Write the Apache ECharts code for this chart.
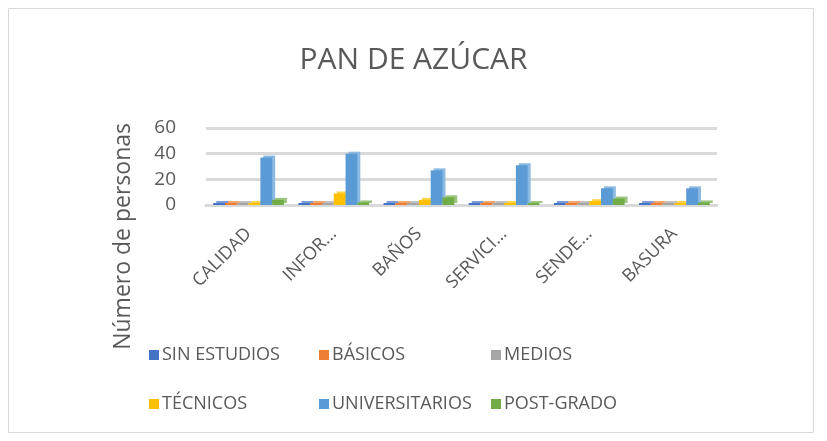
<!DOCTYPE html>
<html>
<head>
<meta charset="utf-8">
<script src="https://cdn.jsdelivr.net/npm/echarts@6/dist/echarts.min.js"></script>
<style>
  html, body { margin: 0; padding: 0; background: #fff; }
  #chart { width: 827px; height: 441px; }
</style>
</head>
<body>
<div id="chart"></div>
<script>
// categories (as shown, truncated like the original)
const categories = ['CALIDAD', 'INFOR...', 'BAÑOS', 'SERVICI...', 'SENDE...', 'BASURA'];

// values
const sinEstudios    = [0, 0, 0, 0, 0, 0];
const basicos        = [0, 0, 0, 0, 0, 0];
const medios         = [0.5, 1, 0.5, 1.5, 1.5, 0.5];
const tecnicos       = [1.5, 9, 4, 1, 3, 1.5];
const universitarios = [37, 40, 27, 31, 13, 13];
const postGrado      = [4, 2, 6, 0.5, 5, 2];

const yTicks = [0, 20, 40, 60];

const seriesDefs = [
  { name: 'SIN ESTUDIOS', data: sinEstudios, color: '#4472C4' },
  { name: 'BÁSICOS', data: basicos, color: '#ED7D31' },
  { name: 'MEDIOS', data: medios, color: '#A5A5A5' },
  { name: 'TÉCNICOS', data: tecnicos, color: '#FFC000' },
  { name: 'UNIVERSITARIOS', data: universitarios, color: '#5B9BD5' },
  { name: 'POST-GRADO', data: postGrado, color: '#70AD47' }
];

const chart = echarts.init(document.getElementById('chart'), null, { renderer: 'canvas' });

const txt = '#595959';
const font = '"Open Sans", "Noto Sans", sans-serif';

const legendCol = (left, names) => ({
  orient: 'vertical',
  left: left,
  top: 341,
  itemWidth: 10,
  itemHeight: 10,
  itemGap: 31,
  icon: 'rect',
  data: names,
  itemStyle: { borderWidth: 0, shadowColor: 'rgba(0,0,0,0)', shadowOffsetX: 0, shadowOffsetY: 0 },
  textStyle: { color: txt, fontSize: 18, fontFamily: font, padding: [0, 0, 0, -2] }
});

chart.setOption({
  animation: false,
  backgroundColor: '#fff',
  title: {
    text: 'PAN DE AZÚCAR',
    left: 'center',
    top: 40,
    textStyle: { color: txt, fontSize: 30, fontWeight: 'normal', fontFamily: font }
  },
  legend: [
    legendCol(144, ['SIN ESTUDIOS', 'TÉCNICOS']),
    legendCol(314, ['BÁSICOS', 'UNIVERSITARIOS']),
    legendCol(486, ['MEDIOS', 'POST-GRADO'])
  ],
  graphic: [
    {
      type: 'rect',
      shape: { x: 8.5, y: 8.5, width: 805, height: 424 },
      style: { fill: 'none', stroke: '#D9D9D9', lineWidth: 1 },
      silent: true
    },
    {
      type: 'text',
      left: 112,
      top: 123,
      rotation: Math.PI / 2,
      style: { text: 'Número de personas', fill: txt, fontSize: 23, fontFamily: font },
      silent: true
    }
  ],
  grid: { left: 206, right: 110, top: 128, bottom: 236 },
  xAxis: {
    type: 'category',
    data: categories,
    axisLine: { show: true, lineStyle: { color: '#D9D9D9', width: 3 } },
    axisTick: { show: false },
    axisLabel: {
      rotate: 45,
      color: txt,
      fontSize: 18,
      fontFamily: font,
      margin: 26,
      interval: 0
    }
  },
  yAxis: {
    type: 'value',
    min: yTicks[0],
    max: yTicks[yTicks.length - 1],
    interval: 20,
    axisLine: { show: false },
    axisTick: { show: false },
    axisLabel: { color: txt, fontSize: 19, fontFamily: font, margin: 30 },
    splitLine: { lineStyle: { color: '#D9D9D9', width: 3 } }
  },
  series: seriesDefs.map(s => ({
    type: 'bar',
    name: s.name,
    data: s.data,
    barGap: '0%',
    barCategoryGap: '17%',
    barMinHeight: 2,
    itemStyle: {
      color: s.color,
      borderWidth: 0,
      shadowColor: echarts.color.lift(s.color, 0.3),
      shadowOffsetX: 3,
      shadowOffsetY: -2
    }
  }))
});
</script>
</body>
</html>
